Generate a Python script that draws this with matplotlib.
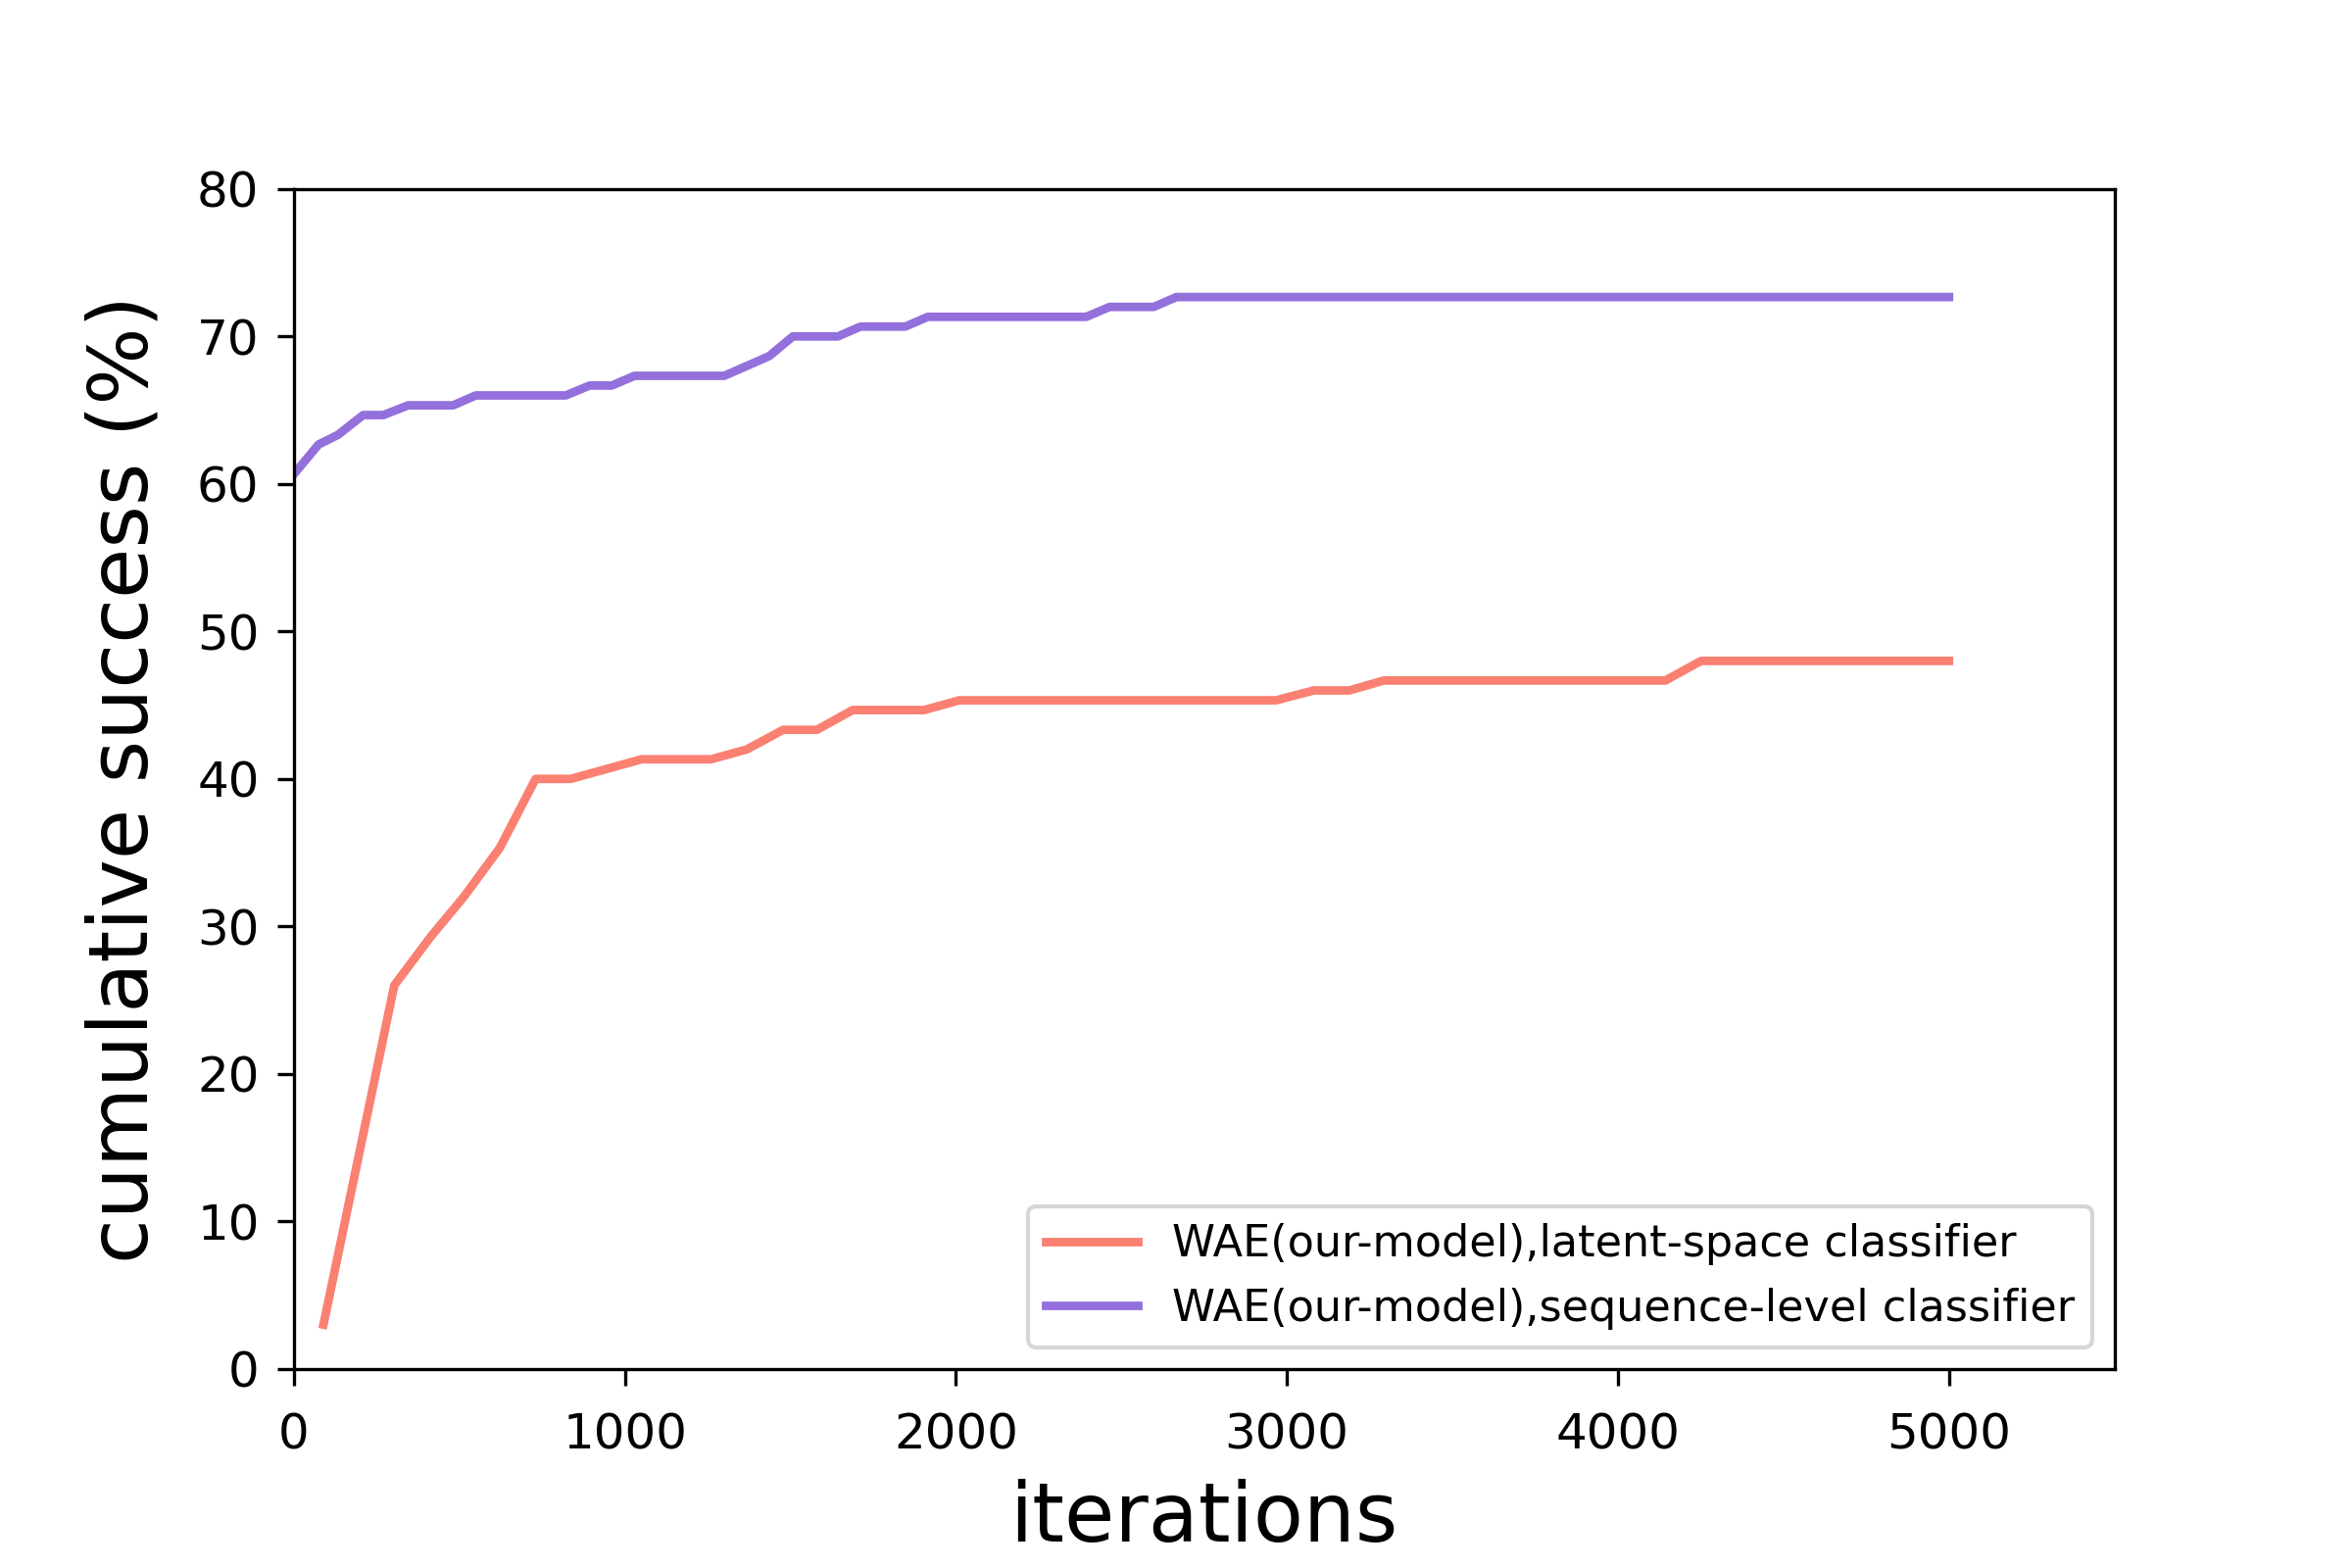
import matplotlib
matplotlib.use("Agg")
import matplotlib.pyplot as plt

# latent-space classifier (salmon)
latent_iters = [89, 303, 414, 513, 622, 730, 836, 1050, 1260, 1368, 1478, 1580,
                1688, 1904, 2010, 2967, 3081, 3189, 3292, 4143, 4251, 5000]
latent_success = [3.0, 26.0, 29.33, 32.0, 35.33, 40.0, 40.0, 41.33, 41.33, 42.0,
                  43.33, 43.33, 44.67, 44.67, 45.33, 45.33, 46.0, 46.0, 46.67,
                  46.67, 48.0, 48.0]

# sequence-level classifier (purple)
seq_iters = [0, 74, 133, 209, 270, 345, 481, 549, 821, 893, 960, 1029, 1300,
             1436, 1507, 1643, 1712, 1847, 1915, 2394, 2464, 2597, 2666, 5000]
seq_success = [60.67, 62.67, 63.33, 64.67, 64.67, 65.33, 65.33, 66.0, 66.0,
               66.67, 66.67, 67.33, 67.33, 68.67, 70.0, 70.0, 70.67, 70.67,
               71.33, 71.33, 72.0, 72.0, 72.67, 72.67]

labels = ["WAE(our-model),latent-space classifier",
          "WAE(our-model),sequence-level classifier"]
xticks = [0, 1000, 2000, 3000, 4000, 5000]
yticks = [0, 10, 20, 30, 40, 50, 60, 70, 80]

fig = plt.figure(figsize=(8, 16 / 3), dpi=300)
ax = fig.add_axes([0.125, 0.127, 0.774, 0.7525])

ax.plot(latent_iters, latent_success, color="salmon", lw=2.1, label=labels[0])
ax.plot(seq_iters, seq_success, color="mediumpurple", lw=2.1, label=labels[1])

ax.set_xlim(0, 5500)
ax.set_ylim(0, 80)
ax.set_xticks(xticks)
ax.set_yticks(yticks)
ax.tick_params(labelsize=12, length=4)
ax.tick_params(axis="x", pad=6.5)
ax.tick_params(axis="y", pad=4.5)
ax.set_xlabel("iterations", fontsize=20, labelpad=5)
ax.set_ylabel("cumulative success (%)", fontsize=20, labelpad=8)
ax.legend(loc="lower right", fontsize=10.7, handlelength=2.1)

fig.savefig("out.png", dpi=300)
